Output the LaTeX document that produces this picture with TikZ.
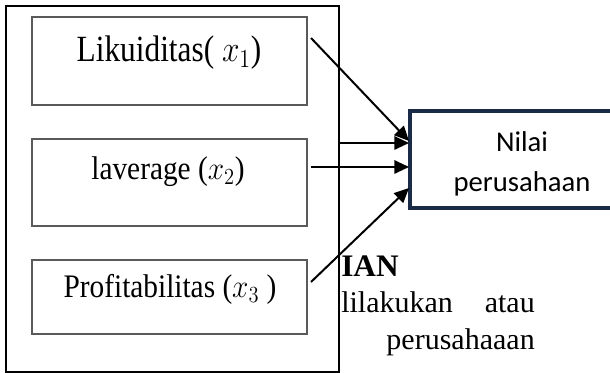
\RequirePackage{fix-cm}
\documentclass[tikz,border=0pt]{standalone}
\usepackage{graphicx}
\usepackage{fontspec}
\setmainfont{Liberation Serif}
\newfontfamily\calibri{Carlito}
\usetikzlibrary{arrows.meta}
\definecolor{navy}{HTML}{1A2B47}
\definecolor{boxgray}{HTML}{5A5A5A}
\tikzset{
  outerbox/.style={draw=black, line width=1.5pt, inner sep=0pt},
  varbox/.style={draw=boxgray, line width=0.8pt, inner sep=0pt, minimum width=206.25pt},
  resultbox/.style={draw=navy, line width=3pt, inner sep=0pt},
  lbl/.style={anchor=base, inner sep=0pt, font=\fontsize{22}{26}\selectfont},
  rlbl/.style={anchor=base, inner sep=0pt, font=\calibri\fontsize{21.5}{26}\selectfont},
  bgtext/.style={anchor=base west, inner sep=0pt, font=\fontsize{22.5}{27}\selectfont},
  arr/.style={line width=1.5pt, -{Triangle[length=11pt,width=10pt]}}
}
\begin{document}
\begin{tikzpicture}[x=0.75pt,y=-0.75pt]
\useasboundingbox (0,0) rectangle (610,373);
\clip (0,0) rectangle (610,373);
% background text fragments
\node[bgtext, font=\bfseries\fontsize{23.5}{27}\selectfont] (t1) at (341,277) {IAN};
\node[bgtext] (t2) at (341,313) {lilakukan};
\node[bgtext, anchor=base east] (t3) at (535,313) {atau};
\node[bgtext, anchor=base east] (t4) at (535,350) {perusahaaan};
% boxes
\node[outerbox, minimum width=249.75pt, minimum height=274.5pt] (outer) at (172.5,189) {};
\node[varbox, minimum height=66pt] (b1) at (169.5,61) {};
\node[varbox, minimum height=65.25pt] (b2) at (169.5,182.5) {};
\node[varbox, minimum height=55.5pt] (b3) at (169.5,297) {};
\node[resultbox, minimum width=160.9pt, minimum height=72.4pt] (nilai) at (517.75,159.25) {};
% labels
\node[lbl, font=\fontsize{23.5}{27}\selectfont] (l1) at (169,62) {\scalebox{1}[1.18]{Likuiditas( $x_1$)}};
\node[lbl] (l2) at (168,180) {\scalebox{1}[1.12]{laverage ($x_2$)}};
\node[lbl] (l3) at (170,298) {\scalebox{1}[1.12]{Profitabilitas ($x_3$ )}};
\node[rlbl] (n1) at (522,152) {Nilai};
\node[rlbl] (n2) at (522,192) {perusahaan};
% connector end points
\coordinate (s1) at (311,38);
\coordinate (e1) at (409,141);
\coordinate (s2) at (339,143);
\coordinate (e2) at (409,143);
\coordinate (s3) at (311,167);
\coordinate (e3) at (409,167);
\coordinate (s4) at (311,282);
\coordinate (e4) at (409,188);
\draw[arr] (s1) -- (e1);
\draw[arr] (s2) -- (e2);
\draw[arr] (s3) -- (e3);
\draw[arr] (s4) -- (e4);
\end{tikzpicture}
\end{document}
